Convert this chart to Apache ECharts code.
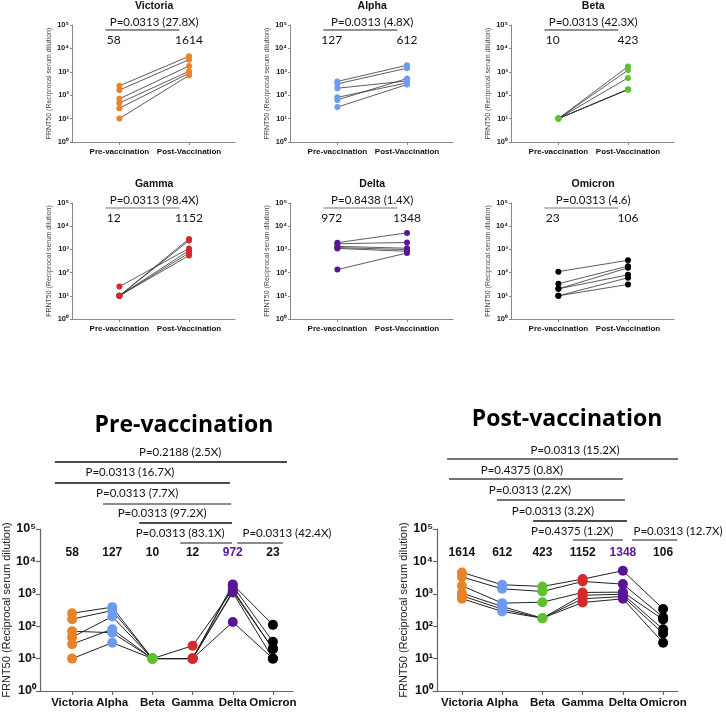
<!DOCTYPE html>
<html><head><meta charset="utf-8">
<script src="https://cdn.jsdelivr.net/npm/echarts@6/dist/echarts.min.js"></script>
<style>html,body{margin:0;padding:0;background:#fff}#c{width:726px;height:713px}</style>
</head><body><div id="c"></div>
<script>
// ---------- DATA ----------
const variants = ['Victoria', 'Alpha', 'Beta', 'Gamma', 'Delta', 'Omicron'];
const timepoints = ['Pre-vaccination', 'Post-Vaccination'];
// FRNT50 titres per variant, same donor order (6 donors)
const preVictoria = [252, 165, 70, 46, 28, 10];
const preAlpha    = [387, 305, 63, 199, 81, 31];
const preBeta     = [10, 10, 10, 10, 10, 10];
const preGamma    = [10, 10, 25, 10, 10, 10];
const preDelta    = [1950, 1750, 1350, 1200, 1100, 135];
const preOmicron  = [110, 33, 20, 20, 10, 10];
const postVictoria = [4570, 3300, 1770, 1050, 870, 705];
const postAlpha    = [1900, 1430, 515, 405, 336, 285];
const postBeta     = [1690, 1180, 550, 177, 177, 177];
const postGamma    = [2840, 2400, 1100, 900, 700, 540];
const postDelta    = [5150, 1990, 1126, 975, 827, 700];
const postOmicron  = [340, 190, 160, 80, 60, 31];
const gmtPre  = [58, 127, 10, 12, 972, 23];
const gmtPost = [1614, 612, 423, 1152, 1348, 106];
const pPaired = ['P=0.0313 (27.8X)', 'P=0.0313 (4.8X)', 'P=0.0313 (42.3X)', 'P=0.0313 (98.4X)', 'P=0.8438 (1.4X)', 'P=0.0313 (4.6)'];
const preComparisons  = [[0, 5, 'P=0.2188 (2.5X)'], [0, 4, 'P=0.0313 (16.7X)'], [1, 4, 'P=0.0313 (7.7X)'], [2, 4, 'P=0.0313 (97.2X)'], [3, 4, 'P=0.0313 (83.1X)'], [4, 5, 'P=0.0313 (42.4X)']];
const postComparisons = [[0, 5, 'P=0.0313 (15.2X)'], [0, 4, 'P=0.4375 (0.8X)'], [1, 4, 'P=0.0313 (2.2X)'], [2, 4, 'P=0.0313 (3.2X)'], [3, 4, 'P=0.4375 (1.2X)'], [4, 5, 'P=0.0313 (12.7X)']];

// ---------- STYLE / LAYOUT ----------
const preAll = [preVictoria, preAlpha, preBeta, preGamma, preDelta, preOmicron];
const postAll = [postVictoria, postAlpha, postBeta, postGamma, postDelta, postOmicron];
const colors = ['#E8832A', '#6E9BF0', '#5EC130', '#D42A2A', '#5A1597', '#000000'];
const SUP = ['\u2070', '\u00B9', '\u00B2', '\u00B3', '\u2074', '\u2075'];
const ARIAL = '"Liberation Sans", Arial, sans-serif';
const CAL = 'Lato, "Open Sans", sans-serif';
const TITLEF = '"Open Sans", "Noto Sans", sans-serif';
const yName = 'FRNT50 (Reciprocal serum dilution)';
const topLeft = [72, 290, 511];
const rowTop = [25, 203];
const rowH = [117, 116];
// bracket layout in x-data units [x1, x2, lineY, textX, textY]
const preBrLayout = [[-0.43, 5.35, 462, 2.69, 452], [-0.43, 3.93, 483, 1.44, 472], [0.77, 3.96, 504, 1.62, 493], [1.67, 3.98, 523, 2.24, 513], [2.69, 3.98, 543, 2.69, 533], [4.11, 5.25, 543, 5.35, 533]];
const postBrLayout = [[-0.37, 5.37, 459, 2.81, 450], [-0.32, 4.0, 479, 1.49, 470], [0.87, 4.05, 500, 1.69, 490], [1.77, 4.10, 521, 2.26, 511], [2.76, 4.0, 540, 2.74, 531], [4.23, 5.35, 540, 5.37, 531]];
const preBrColors = ['#111', '#111', '#666', '#111', '#666', '#666'];
const postBrColors = ['#444', '#444', '#444', '#111', '#666', '#666'];

const fmtLog = v => '10' + SUP[Math.round(Math.log10(v))];

const grids = [], xAxes = [], yAxes = [], series = [];
for (let v = 0; v < 6; v++) {
  const r = Math.floor(v / 3), c = v % 3;
  grids.push({ left: topLeft[c], top: rowTop[r], width: 163, height: rowH[r] });
  xAxes.push({
    gridIndex: v, type: 'value', min: -0.68, max: 1.66,
    axisLine: { show: true, onZero: false, lineStyle: { color: '#888', width: 1 } },
    axisTick: { show: true, customValues: [0, 1], length: 3, lineStyle: { color: '#888' } },
    axisLabel: { show: true, customValues: [0, 1], formatter: x => timepoints[Math.round(x)], fontFamily: ARIAL, fontWeight: 'bold', fontSize: 8, color: '#111', margin: 6 },
    splitLine: { show: false }
  });
  yAxes.push({
    gridIndex: v, type: 'log', logBase: 10, min: 1, max: 100000,
    name: yName, nameLocation: 'middle', nameRotate: 90, nameGap: 19,
    nameTextStyle: { fontFamily: ARIAL, fontSize: 7, color: '#444' },
    axisLine: { show: true, onZero: false, lineStyle: { color: '#888', width: 1 } },
    axisTick: { show: true, length: 2, lineStyle: { color: '#888' } },
    minorTick: { show: false },
    axisLabel: { formatter: fmtLog, fontFamily: ARIAL, fontWeight: 'bold', fontSize: 7.5, color: '#222', margin: 3 },
    splitLine: { show: false }
  });
  for (let s = 0; s < 6; s++) {
    series.push({
      type: 'line', xAxisIndex: v, yAxisIndex: v, symbol: 'none', silent: true,
      lineStyle: { color: '#333', width: 0.8 },
      data: [[0, preAll[v][s]], [1, postAll[v][s]]]
    });
  }
  const pts = [];
  for (let s = 0; s < 6; s++) { pts.push([0, preAll[v][s]]); pts.push([1, postAll[v][s]]); }
  series.push({ type: 'scatter', xAxisIndex: v, yAxisIndex: v, symbolSize: 6, z: 5, itemStyle: { color: colors[v], opacity: 1 }, data: pts });
}
// bottom panels
const bottom = [
  { left: 40, width: 253, min: -0.8, max: 5.5, data: preAll },
  { left: 437, width: 241, min: -0.62, max: 5.37, data: postAll }
];
bottom.forEach((b, k) => {
  const gi = 6 + k;
  grids.push({ left: b.left, top: 529, width: b.width, height: 162 });
  xAxes.push({
    gridIndex: gi, type: 'value', min: b.min, max: b.max,
    axisLine: { show: true, onZero: false, lineStyle: { color: '#666', width: 1.2 } },
    axisTick: { show: true, customValues: [0, 1, 2, 3, 4, 5], length: 4, lineStyle: { color: '#666', width: 1.2 } },
    axisLabel: { show: true, customValues: [0, 1, 2, 3, 4, 5], formatter: x => variants[Math.round(x)], fontFamily: ARIAL, fontWeight: 'bold', fontSize: 11.5, color: '#111', margin: 6 },
    splitLine: { show: false }
  });
  yAxes.push({
    gridIndex: gi, type: 'log', logBase: 10, min: 1, max: 100000,
    name: yName, nameLocation: 'middle', nameRotate: 90, nameGap: 26,
    nameTextStyle: { fontFamily: ARIAL, fontSize: 11, color: '#222' },
    axisLine: { show: true, onZero: false, lineStyle: { color: '#666', width: 1.2 } },
    axisTick: { show: true, length: 4, lineStyle: { color: '#666', width: 1.2 } },
    minorTick: { show: false },
    axisLabel: { formatter: fmtLog, fontFamily: ARIAL, fontWeight: 'bold', fontSize: 12.5, color: '#111', margin: 4 },
    splitLine: { show: false }
  });
  for (let s = 0; s < 6; s++) {
    series.push({
      type: 'line', xAxisIndex: gi, yAxisIndex: gi, symbol: 'none', silent: true,
      lineStyle: { color: '#222', width: 1 },
      data: variants.map((_, v) => [v, b.data[v][s]])
    });
  }
  const pts = [];
  for (let v = 0; v < 6; v++) for (let s = 0; s < 6; s++) pts.push({ value: [v, b.data[v][s]], itemStyle: { color: colors[v] } });
  series.push({ type: 'scatter', xAxisIndex: gi, yAxisIndex: gi, symbolSize: 10, z: 5, itemStyle: { opacity: 1 }, data: pts });
});

const chart = echarts.init(document.getElementById('c'), null, { renderer: 'canvas' });
chart.setOption({ animation: false, backgroundColor: '#fff', grid: grids, xAxis: xAxes, yAxis: yAxes, series: series });

// ---------- ANNOTATIONS ----------
const px = (ai, x) => chart.convertToPixel({ xAxisIndex: ai }, x);
const g = [];
const txt = (text, x, y, font, fill, align) => g.push({ type: 'text', silent: true, style: { text, x, y, font, fill: fill || '#000', align: align || 'center', verticalAlign: 'middle' } });
const ln = (x1, y1, x2, y2, stroke, w) => g.push({ type: 'line', silent: true, shape: { x1, y1, x2, y2 }, style: { stroke, lineWidth: w || 1.2 } });
for (let v = 0; v < 6; v++) {
  const r = Math.floor(v / 3);
  const t = rowTop[r];
  const xPre = px(v, 0), xPost = px(v, 1), mid = (xPre + xPost) / 2;
  txt(variants[v], mid, t - 19, 'bold 10.5px ' + ARIAL, '#111');
  txt(pPaired[v], mid, t - 3, '11.5px ' + CAL, '#111');
  ln(px(v, -0.2), t + 5, px(v, 0.86), t + 5, r === 0 ? '#222' : '#777', 1.2);
  txt(String(gmtPre[v]), px(v, -0.08), t + 15, '12px ' + CAL, '#111');
  txt(String(gmtPost[v]), px(v, 1), t + 15, '12px ' + CAL, '#111');
}
txt('Pre-vaccination', 184, 425, 'bold 23px ' + TITLEF, '#000');
txt('Post-vaccination', 567, 419, 'bold 23px ' + TITLEF, '#000');
[[6, preComparisons, preBrLayout, preBrColors, gmtPre], [7, postComparisons, postBrLayout, postBrColors, gmtPost]].forEach(([ai, comps, lay, cols, gmt]) => {
  comps.forEach((c, i) => {
    const L = lay[i];
    ln(px(ai, L[0]), L[2], px(ai, L[1]), L[2], cols[i], 1.3);
    txt(c[2], px(ai, L[3]), L[4], '11.5px ' + CAL, '#111');
  });
  gmt.forEach((m, v) => txt(String(m), px(ai, v), 553, 'bold 12px ' + ARIAL, v === 4 ? '#5A1597' : '#111'));
});
chart.setOption({ graphic: g });
</script></body></html>
